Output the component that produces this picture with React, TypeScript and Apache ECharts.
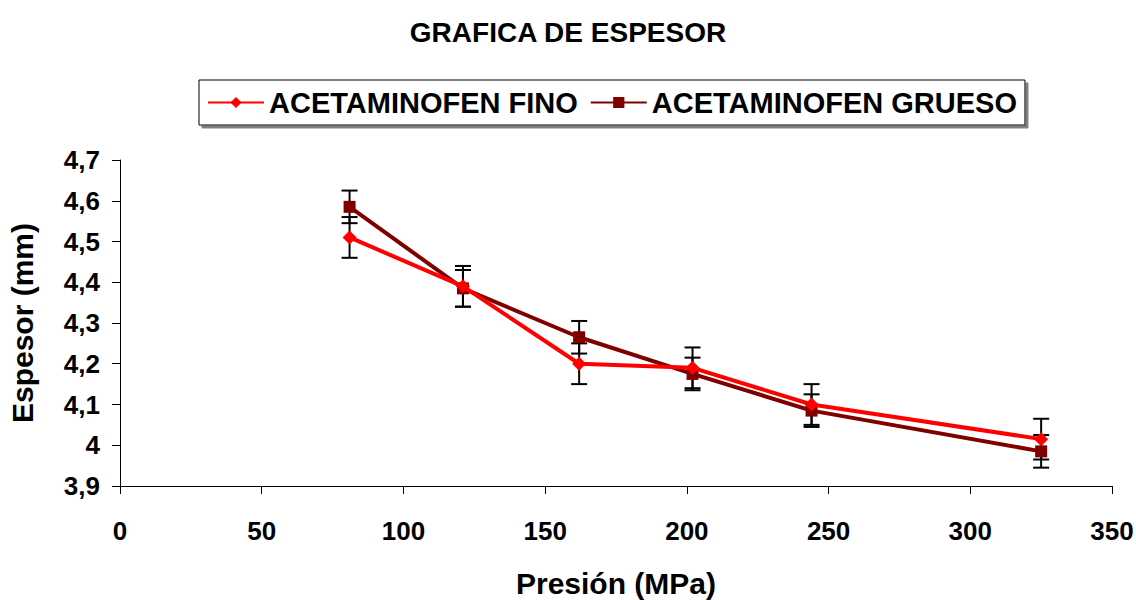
import React, { useEffect, useRef } from "react";
import * as echarts from "echarts";

// Pressure values (MPa) shared by both powders
const presion = [81, 121, 162, 202, 244, 325];

// Mean thickness (mm) and half-width of the error bars
const espesorFino = [4.51, 4.39, 4.2, 4.19, 4.1, 4.015];
const errorFino = [0.05, 0.05, 0.05, 0.05, 0.05, 0.05];
const espesorGrueso = [4.585, 4.385, 4.265, 4.175, 4.085, 3.985];
const errorGrueso = [0.04, 0.045, 0.04, 0.04, 0.04, 0.04];

const nombreFino = "ACETAMINOFEN FINO";
const nombreGrueso = "ACETAMINOFEN GRUESO";

const FONT = "'Liberation Sans', Arial, Helvetica, sans-serif";

function errorData(vals: number[], errs: number[]) {
  return presion.map((x, i) => [x, vals[i] - errs[i], vals[i] + errs[i]]);
}

function renderErrorBar(params: any, api: any) {
  const x = api.value(0);
  const lo = api.coord([x, api.value(1)]);
  const hi = api.coord([x, api.value(2)]);
  const half = 8;
  const style = { stroke: "#000000", lineWidth: 2 };
  return {
    type: "group",
    children: [
      { type: "line", shape: { x1: lo[0], y1: lo[1], x2: hi[0], y2: hi[1] }, style },
      { type: "line", shape: { x1: hi[0] - half, y1: hi[1], x2: hi[0] + half, y2: hi[1] }, style },
      { type: "line", shape: { x1: lo[0] - half, y1: lo[1], x2: lo[0] + half, y2: lo[1] }, style },
    ],
  };
}

export default function App() {
  const ref = useRef<HTMLDivElement>(null);

  useEffect(() => {
    if (!ref.current) return;
    const chart = echarts.init(ref.current, null, { renderer: "svg" });
    const axisLabel = {
      color: "#000",
      fontFamily: FONT,
      fontWeight: "bold" as const,
      fontSize: 26,
    };
    const nameStyle = { color: "#000", fontFamily: FONT, fontWeight: "bold" as const, fontSize: 30 };
    chart.setOption({
      animation: false,
      backgroundColor: "#ffffff",
      title: {
        text: "GRAFICA DE ESPESOR",
        left: "center",
        top: 13,
        textStyle: { color: "#000", fontFamily: FONT, fontWeight: "bold", fontSize: 28 },
      },
      legend: {
        data: [nombreFino, nombreGrueso],
        left: 199,
        top: 80,
        itemWidth: 56,
        itemHeight: 14,
        itemGap: 12,
        padding: [8, 8, 8, 8],
        borderColor: "#000",
        borderWidth: 1,
        backgroundColor: "#fff",
        shadowColor: "#808080",
        shadowOffsetX: 3,
        shadowOffsetY: 3,
        shadowBlur: 0,
        textStyle: { color: "#000", fontFamily: FONT, fontWeight: "bold", fontSize: 29 },
      },
      grid: {
        left: 120,
        right: 24,
        top: 160,
        bottom: 114,
        containLabel: false,
        outerBoundsMode: "none",
      },
      xAxis: {
        type: "value",
        min: 0,
        max: 350,
        interval: 50,
        name: "Presión (MPa)",
        nameLocation: "middle",
        nameGap: 82,
        nameTextStyle: nameStyle,
        axisLine: { show: true, onZero: false, lineStyle: { color: "#000", width: 1 } },
        axisTick: { show: true, inside: false, length: 8, lineStyle: { color: "#000" } },
        splitLine: { show: false },
        axisLabel: { ...axisLabel, margin: 32 },
      },
      yAxis: {
        type: "value",
        min: 3.9,
        max: 4.7,
        interval: 0.1,
        name: "Espesor (mm)",
        nameLocation: "middle",
        nameGap: 83,
        nameTextStyle: nameStyle,
        axisLine: { show: true, lineStyle: { color: "#000", width: 1 } },
        axisTick: { show: true, inside: false, length: 8, lineStyle: { color: "#000" } },
        splitLine: { show: false },
        axisLabel: {
          ...axisLabel,
          margin: 20,
          formatter: (v: number) => String(Math.round(v * 10) / 10).replace(".", ","),
        },
      },
      series: [
        {
          type: "custom",
          name: "errFino",
          renderItem: renderErrorBar,
          data: errorData(espesorFino, errorFino),
          z: 1,
          silent: true,
        },
        {
          type: "custom",
          name: "errGrueso",
          renderItem: renderErrorBar,
          data: errorData(espesorGrueso, errorGrueso),
          z: 1,
          silent: true,
        },
        {
          type: "line",
          name: nombreFino,
          data: presion.map((x, i) => [x, espesorFino[i]]),
          symbol: "diamond",
          symbolSize: 14,
          color: "#ff0000",
          lineStyle: { color: "#ff0000", width: 4 },
          itemStyle: { color: "#ff0000" },
          z: 3,
        },
        {
          type: "line",
          name: nombreGrueso,
          data: presion.map((x, i) => [x, espesorGrueso[i]]),
          symbol: "rect",
          symbolSize: 12,
          color: "#800000",
          lineStyle: { color: "#800000", width: 4 },
          itemStyle: { color: "#800000" },
          z: 2,
        },
      ],
    });
    return () => chart.dispose();
  }, []);

  return (
    <div
      ref={ref}
      style={{ position: "fixed", left: 0, top: 0, width: 1136, height: 600, background: "#fff" }}
    />
  );
}
